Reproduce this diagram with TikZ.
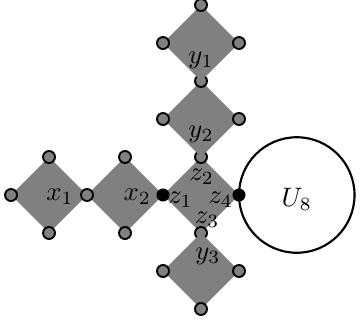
\documentclass[tikz,border=0pt]{standalone}
\begin{document}
\begin{tikzpicture}[
  dia/.style={fill=gray},
  vtx/.style={circle, draw=black, fill=gray, line width=0.7pt, minimum size=4.5pt, inner sep=0pt},
  hub/.style={circle, fill=black, minimum size=4.9pt, inner sep=0pt},
  lab/.style={inner sep=0pt, anchor=base},
  bigc/.style={circle, draw=black, line width=0.8pt, minimum size=1.52cm, inner sep=0pt}
]
\useasboundingbox (-2.645,-1.697) rectangle (2.092,2.566);
\newcommand{\mydia}[2]{\fill[dia] (#1-0.5,#2) -- (#1,#2+0.5) -- (#1+0.5,#2) -- (#1,#2-0.5) -- cycle;}
% central diamond
\mydia{0}{0}
\node[vtx] (zt) at (0,0.5) {};
\node[vtx] (zb) at (0,-0.5) {};
% y2
\mydia{0}{1}
\node[vtx] (y2l) at (-0.5,1) {};
\node[vtx] (y2r) at (0.5,1) {};
\node[vtx] (y12) at (0,1.5) {};
% y1
\mydia{0}{2}
\node[vtx] (y1l) at (-0.5,2) {};
\node[vtx] (y1r) at (0.5,2) {};
\node[vtx] (y1t) at (0,2.5) {};
% y3
\mydia{0}{-1}
\node[vtx] (y3l) at (-0.5,-1) {};
\node[vtx] (y3r) at (0.5,-1) {};
\node[vtx] (y3b) at (0,-1.5) {};
% x1, x2
\mydia{-2}{0}
\mydia{-1}{0}
\node[vtx] (x1l) at (-2.5,0) {};
\node[vtx] (x1t) at (-2,0.5) {};
\node[vtx] (x1b) at (-2,-0.5) {};
\node[vtx] (x12) at (-1.5,0) {};
\node[vtx] (x2t) at (-1,0.5) {};
\node[vtx] (x2b) at (-1,-0.5) {};
% big circle
\node[bigc] (U) at (1.26,0) {};
% hubs
\node[hub] (h1) at (-0.5,0) {};
\node[hub] (h4) at (0.5,0) {};
% labels
\node[lab] (lx1) at (-1.855,-0.066) {$x_1$};
\node[lab] (lx2) at (-0.84,-0.066) {$x_2$};
\node[lab] (ly1) at (0,1.728) {$y_1$};
\node[lab] (ly2) at (0,0.757) {$y_2$};
\node[lab] (ly3) at (0.09,-0.849) {$y_3$};
\node[lab] (lz1) at (-0.27,-0.112) {$z_1$};
\node[lab] (lz2) at (0.01,0.197) {$z_2$};
\node[lab] (lz3) at (0.08,-0.375) {$z_3$};
\node[lab] (lz4) at (0.26,-0.112) {$z_4$};
\node[lab] (lU) at (1.26,-0.145) {$U_8$};
\end{tikzpicture}
\end{document}
